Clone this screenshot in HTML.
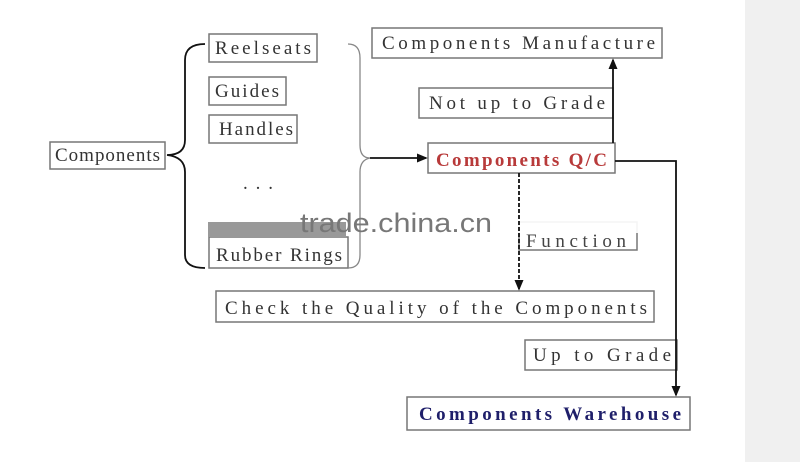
<!DOCTYPE html>
<html><head><style>
body{margin:0;background:#fff;width:800px;height:462px;overflow:hidden}
svg text{font-family:"Liberation Serif","DejaVu Serif",serif;font-size:19px;fill:#333}
</style></head><body>
<svg width="800" height="462" viewBox="0 0 800 462">
<rect x="745" y="0" width="55" height="462" fill="#f0f0f0"/>
<defs><marker id="a" markerWidth="6" markerHeight="6" refX="5" refY="3" orient="auto"><path d="M0,0.5 L6,3 L0,5.5 Z" fill="#111"/></marker></defs>
<g fill="#fff" stroke="#777" stroke-width="1.5">
<rect x="50" y="142" width="115" height="27"/>
<rect x="209" y="34" width="108" height="28"/>
<rect x="209" y="77" width="77" height="28"/>
<rect x="209" y="115" width="88" height="28"/>
<rect x="209" y="237" width="139" height="31"/>
<rect x="372" y="28" width="290" height="30"/>
<rect x="419" y="88" width="194" height="30"/>
<rect x="428" y="143" width="187" height="30"/>
<rect x="519" y="222" width="118" height="28"/>
<rect x="216" y="291" width="438" height="31"/>
<rect x="525" y="340" width="152" height="30"/>
<rect x="407" y="397" width="283" height="33"/>
</g>
<g fill="none" stroke="#111" stroke-width="1.8">
<path d="M205,44 Q185,44 185,60 L185,140 Q185,155 167,155 Q185,157 185,172 L185,255 Q185,268 205,268"/>
<path d="M348,44 Q360,44 360,58 L360,145 Q360,158 370,158 Q360,160 360,172 L360,255 Q360,268 348,268" stroke="#888" stroke-width="1.3"/>
<line x1="370" y1="158" x2="426" y2="158" marker-end="url(#a)"/>
<line x1="613" y1="143" x2="613" y2="60" marker-end="url(#a)"/>
<polyline points="615,161 676,161 676,395" marker-end="url(#a)"/>
</g>
<rect x="208" y="222" width="138" height="15" fill="#999"/>
<text x="526" y="247" textLength="100" style="fill:#444">Function</text>
<rect x="500" y="200" width="160" height="33" fill="#fff" opacity="0.92"/>
<line x1="519" y1="173" x2="519" y2="289" stroke="#111" stroke-width="1.8" stroke-dasharray="4,2" marker-end="url(#a)"/>
<text x="300" y="232" style="font-family:'Liberation Sans',sans-serif;font-size:27px;fill:#777" textLength="192" lengthAdjust="spacingAndGlyphs">trade.china.cn</text>
<text x="55" y="161" textLength="105">Components</text>
<text x="215" y="54" textLength="96">Reelseats</text>
<text x="215" y="97" textLength="64">Guides</text>
<text x="219" y="135" textLength="74">Handles</text>
<text x="243" y="189" textLength="30">...</text>
<text x="216" y="261" textLength="126">Rubber Rings</text>
<text x="382" y="49" textLength="273">Components Manufacture</text>
<text x="429" y="109" textLength="176">Not up to Grade</text>
<text x="436" y="166" textLength="171" style="fill:#b83a3a;font-weight:bold">Components Q/C</text>
<text x="225" y="314" textLength="422">Check the Quality of the Components</text>
<text x="533" y="361" textLength="138">Up to Grade</text>
<text x="419" y="420" textLength="262" style="fill:#1f1f6a;font-weight:bold">Components Warehouse</text>
</svg>
</body></html>
